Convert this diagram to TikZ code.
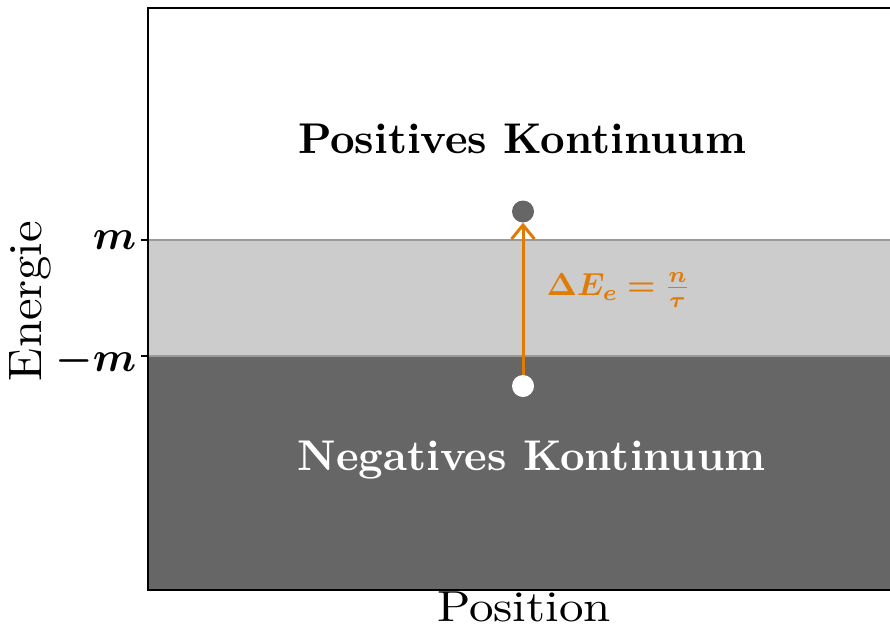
\documentclass[tikz,border=0pt]{standalone}
\usepackage{amsmath,bm}
\usetikzlibrary{arrows.meta}
\begin{document}
\begin{tikzpicture}[x=1pt,y=-1pt,
  bigtxt/.style={font=\bfseries, inner sep=0pt, xscale=4.28, yscale=4.3},
  axtxt/.style={inner sep=0pt},
  ticktxt/.style={inner sep=0pt, anchor=east, scale=4.2},
  dotshape/.style={circle, minimum size=22pt, inner sep=0pt}]
\definecolor{orng}{HTML}{E07B06}
\definecolor{dgray}{HTML}{666666}
\definecolor{lgray}{HTML}{CCCCCC}
\definecolor{edgegray}{HTML}{9A9A9A}
\useasboundingbox (0,0) rectangle (890,629);
\fill[white] (0,0) rectangle (890,629);
% bands
\fill[dgray] (148,356) rectangle (891,590);
\fill[lgray] (148,240) rectangle (891,356);
\draw[line width=1.6pt, edgegray] (148,240) -- (891,240);
\draw[line width=1.6pt, edgegray] (148,356) -- (891,356);
% frame
\draw[line width=2.4pt, black] (148,8) rectangle (893,590);
% ticks
\coordinate (tm) at (148,240);
\coordinate (tmm) at (148,356);
\draw[line width=1.4pt] (tm) -- ++(-7,0);
\draw[line width=1.4pt] (tmm) -- ++(-7,0);
\node[ticktxt] (lm) at (137,240) {$\bm{m}$};
\node[ticktxt] (lmm) at (137,361) {$\bm{-m}$};
% texts
\node[bigtxt] (pos) at (522,139) {Positives Kontinuum};
\node[bigtxt, text=white] (neg) at (531.5,460) {Negatives Kontinuum};
\node[axtxt, xscale=4.9, yscale=4.35] (xl) at (524,607) {Position};
\node[axtxt, rotate=90, xscale=4.86, yscale=4.7] (yl) at (30,301) {Energie};
% dots
\node[dotshape, fill=dgray] (up) at (523,211.5) {};
\node[dotshape, fill=white] (low) at (523,386) {};
\draw[orng, line width=3pt, -{Straight Barb[length=14pt,width=23pt,line width=3pt]}] (low.north) -- (up.south);
\node[text=orng, inner sep=0pt, anchor=west, scale=3.18] (lab) at (546,290) {$\bm{\Delta E_e = \frac{n}{\tau}}$};
\end{tikzpicture}
\end{document}
